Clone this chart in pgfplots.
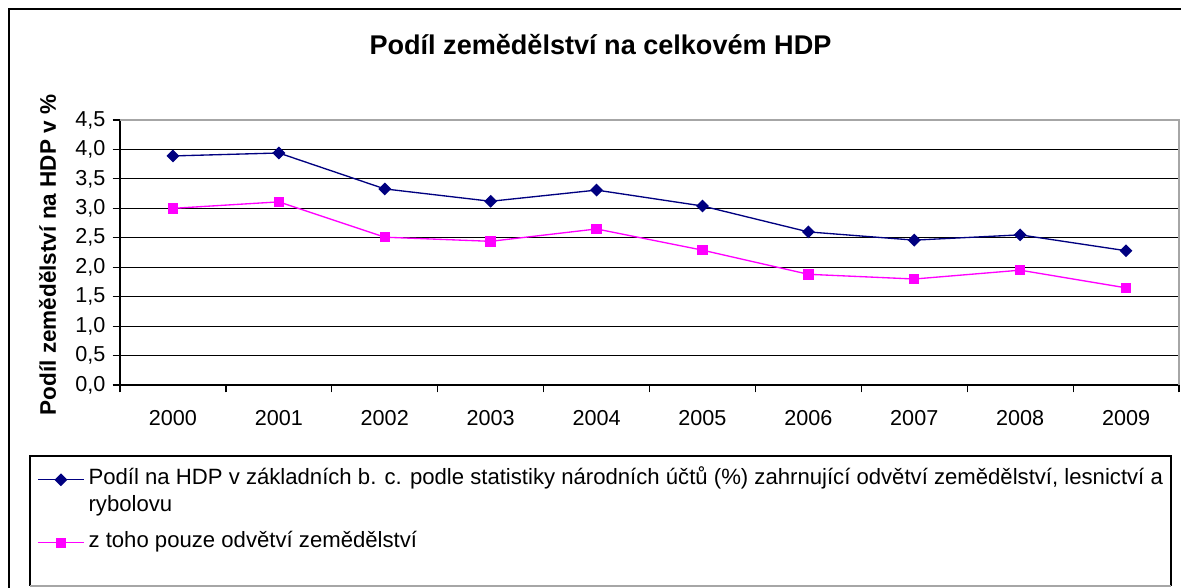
\documentclass[border=0pt]{standalone}
\usepackage{pgfplots}
\pgfplotsset{compat=1.18}
\usepackage{fontspec}
\setmainfont{Liberation Sans}
\definecolor{navy}{HTML}{000080}
\definecolor{pinkm}{HTML}{FF00FF}
\begin{document}
\begin{tikzpicture}[x=0.75pt,y=-0.75pt]
\path[use as bounding box] (0,0) rectangle (1181,587);
\clip (0,0) rectangle (1181,587);
\draw[black, line width=1.5pt] (9,9) rectangle (1200,610);
\begin{axis}[
  at={(90pt,-288.75pt)}, anchor=south west,
  scale only axis, width=794.25pt, height=198.75pt,
  xmin=-0.5, xmax=9.5, ymin=0, ymax=4.5,
  axis x line*=bottom, axis y line*=left,
  axis line style={black, line width=0.9pt, -},
  xtick={-0.5,0.5,...,9.5},
  x tick label as interval,
  xticklabels={2000,2001,2002,2003,2004,2005,2006,2007,2008,2009},
  ytick={0,0.5,...,4.5},
  yticklabels={{0,0},{0,5},{1,0},{1,5},{2,0},{2,5},{3,0},{3,5},{4,0},{4,5}},
  tick align=outside,
  major tick length=5.5pt,
  tick style={black, line width=0.9pt},
  ymajorgrids,
  grid style={black, line width=0.9pt},
  ticklabel style={font=\fontsize{16.2}{19}\selectfont},
  /pgf/number format/assume math mode=true,
  xticklabel style={yshift=-10pt},
  yticklabel style={xshift=-2pt},
  title={\textbf{Podíl zemědělství na celkovém HDP}},
  title style={at={(axis description cs:0.4537,1.2547)}, anchor=center, font=\fontsize{20.3}{24}\selectfont},
  ylabel={\textbf{Podíl zemědělství na HDP v \%}},
  ylabel style={at={(axis description cs:-0.0685,0.4906)}, anchor=center, rotate=0, font=\fontsize{16.9}{20}\selectfont},
  legend style={at={(axis description cs:-0.0784,-0.3057)}, anchor=north west, draw=none, fill=none,
    font=\fontsize{16.6}{20}\selectfont, row sep=0pt, inner sep=0pt,
    nodes={inner sep=0pt, text height=14pt, text depth=6.25pt},
    /tikz/every odd column/.append style={column sep=3pt}},
  legend cell align=left,
  legend image code/.code={\draw[mark repeat=2,mark phase=2] plot coordinates {(0pt,0pt)(17.25pt,0pt)(34.5pt,0pt)};},
  clip=false,
]
\addplot[navy, line width=1pt, mark=square*, mark size=2.9pt, mark options={rotate=45, fill=navy, draw=navy}]
  coordinates {(0,3.89)(1,3.94)(2,3.33)(3,3.12)(4,3.31)(5,3.04)(6,2.60)(7,2.46)(8,2.55)(9,2.28)};
\addlegendentry{Podíl na HDP v základních b. c. podle statistiky národních účtů (\%) zahrnující odvětví zemědělství, lesnictví a}
\addlegendimage{empty legend}
\addlegendentry[text depth=13pt]{rybolovu}
\addplot[pinkm, line width=1pt, mark=square*, mark size=3.4pt, mark options={fill=pinkm, draw=pinkm}]
  coordinates {(0,3.00)(1,3.11)(2,2.51)(3,2.44)(4,2.65)(5,2.29)(6,1.88)(7,1.80)(8,1.95)(9,1.65)};
\addlegendentry{z toho pouze odvětví zemědělství}
\draw[gray!70, line width=1.2pt] (rel axis cs:0,1) -- (rel axis cs:1,1) -- (rel axis cs:1,0);
\end{axis}
\draw[black, line width=1pt] (1171,586) -- (1171,456) -- (30,456) -- (30,586);
\draw[gray!70, line width=1pt] (30,586) -- (1171,586);
\end{tikzpicture}
\end{document}
